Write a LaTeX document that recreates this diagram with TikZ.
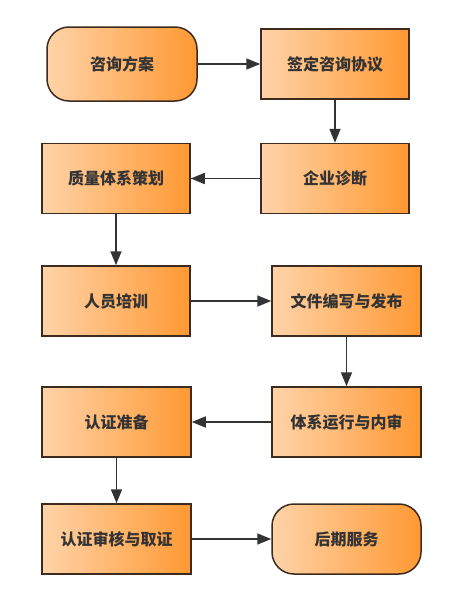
\documentclass[tikz,border=0pt]{standalone}
\usepackage{fontspec}
\newfontfamily\cjk{Noto Sans CJK SC}
\usetikzlibrary{arrows.meta}
\definecolor{edgec}{HTML}{3D2B1F}
\definecolor{lightor}{HTML}{FFD3A8}
\definecolor{darkor}{HTML}{FF9933}
\definecolor{txtc}{HTML}{333333}
\definecolor{arrc}{HTML}{333333}
\tikzset{
  box/.style={draw=edgec, line width=1.5pt, left color=lightor, right color=darkor,
    minimum width=148pt, minimum height=70pt, inner sep=0pt,
    font=\cjk\bfseries\fontsize{16}{19}\selectfont, text=txtc},
  term/.style={box, rounded corners=22pt},
  conn/.style={draw=arrc, line width=1.6pt, -{Triangle[length=14pt,width=11pt]}}
}
\begin{document}
\begin{tikzpicture}[x=1pt,y=-1pt]
\fill[white] (0,0) rectangle (455,600);
\useasboundingbox (0,0) rectangle (455,600);
\node[term, minimum width=150pt, minimum height=74pt] (a) at (122,64) {咨询方案};
\node[box] (b) at (335,64) {签定咨询协议};
\node[box] (c) at (335,178.5) {企业诊断};
\node[box] (d) at (116,178.5) {质量体系策划};
\node[box] (e) at (116,301) {人员培训};
\node[box, minimum width=149pt] (f) at (346.5,301) {文件编写与发布};
\node[box, minimum width=149pt] (g) at (346.5,422) {体系运行与内审};
\node[box, minimum width=149pt] (h) at (116.5,422) {认证准备};
\node[box, minimum width=149pt] (i) at (116.5,539) {认证审核与取证};
\node[term, minimum width=149pt] (j) at (346.5,539) {后期服务};
\draw[conn] (a) -- (b);
\draw[conn] (b) -- (c);
\draw[conn] (c) -- (d);
\draw[conn] (d) -- (e);
\draw[conn] (e) -- (f);
\draw[conn] (f) -- (g);
\draw[conn] (g) -- (h);
\draw[conn] (h) -- (i);
\draw[conn] (i) -- (j);
\end{tikzpicture}
\end{document}
